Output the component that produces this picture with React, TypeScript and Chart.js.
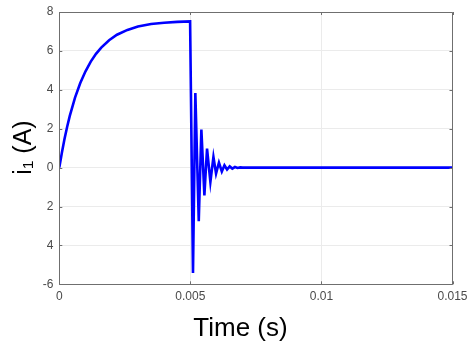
import { useEffect, useRef } from "react";
import { Chart, registerables } from "chart.js";

Chart.register(...registerables);

const timeS = [
  0, 0.0001, 0.0002, 0.0003, 0.0004, 0.0006, 0.0008, 0.001, 0.0012, 0.0014,
  0.0016, 0.0019, 0.0022, 0.0026, 0.003, 0.0035, 0.004, 0.0045, 0.00499,
  0.005, 0.0051, 0.00519, 0.00532, 0.00542, 0.005535, 0.005636, 0.005764,
  0.00588, 0.00598, 0.00609, 0.0062, 0.0063, 0.0064, 0.0065, 0.0066, 0.0067,
  0.0068, 0.0069, 0.007, 0.015,
];
const currentA = [
  0, 0.78, 1.48, 2.1, 2.66, 3.6, 4.35, 4.95, 5.45, 5.85,
  6.17, 6.55, 6.83, 7.08, 7.25, 7.38, 7.45, 7.49, 7.52,
  7.52, -5.42, 3.84, -2.76, 1.96, -1.43, 0.98, -0.74,
  0.55, -0.31, 0.26, -0.2, 0.12, -0.1, 0.06, -0.05, 0.03,
  -0.02, 0.01, 0, 0,
];

const xTicks = [0, 0.005, 0.01, 0.015];
const xTickLabels = ["0", "0.005", "0.01", "0.015"];
const yTicks = [-6, -4, -2, 0, 2, 4, 6, 8];
const yTickLabels = ["-6", "4", "2", "0", "2", "4", "6", "8"];
const xTitle = "Time (s)";
const yTitle = "i₁ (A)";

const FONT = "'Liberation Sans', Arial, Helvetica, sans-serif";

export default function App() {
  const ref = useRef<HTMLCanvasElement | null>(null);

  useEffect(() => {
    document.body.style.margin = "0";
    const canvas = ref.current;
    if (!canvas) return;

    const framePlugin = {
      id: "frame",
      afterDraw(chart: any) {
        const { ctx, chartArea } = chart;
        const { left, right, top, bottom } = chartArea;
        const xs = chart.scales.x;
        const ys = chart.scales.y;
        ctx.save();
        ctx.strokeStyle = "#6f6f6f";
        ctx.lineWidth = 1;
        ctx.beginPath();
        ctx.rect(Math.round(left) + 0.5, Math.round(top) + 0.5, Math.round(right - left), Math.round(bottom - top));
        ctx.stroke();
        // inward ticks
        ctx.beginPath();
        yTicks.forEach((v) => {
          const y = Math.round(ys.getPixelForValue(v)) + 0.5;
          ctx.moveTo(left, y);
          ctx.lineTo(left + 3, y);
          ctx.moveTo(right, y);
          ctx.lineTo(right - 3, y);
        });
        xTicks.forEach((v) => {
          const x = Math.round(xs.getPixelForValue(v)) + 0.5;
          ctx.moveTo(x, bottom);
          ctx.lineTo(x, bottom - 3);
          ctx.moveTo(x, top);
          ctx.lineTo(x, top + 3);
        });
        ctx.stroke();
        // titles
        ctx.fillStyle = "#000";
        ctx.font = `26px ${FONT}`;
        ctx.textAlign = "center";
        ctx.textBaseline = "alphabetic";
        ctx.fillText(xTitle, 240.5, 336);
        ctx.translate(31, 147.5);
        ctx.rotate(-Math.PI / 2);
        ctx.font = `25px ${FONT}`;
        ctx.fillText(yTitle, 0, 0);
        ctx.restore();
      },
    };

    const chart = new Chart(canvas, {
      type: "line",
      data: {
        datasets: [
          {
            data: timeS.map((t, i) => ({ x: t, y: currentA[i] })),
            borderColor: "#0000ff",
            borderWidth: 2.6,
            pointRadius: 0,
            tension: 0,
            fill: false,
          },
        ],
      },
      options: {
        animation: false,
        responsive: false,
        layout: { padding: { top: 12, right: 14.5, bottom: 0, left: 0 } },
        plugins: { legend: { display: false }, tooltip: { enabled: false } },
        scales: {
          x: {
            type: "linear",
            min: 0,
            max: 0.015,
            afterBuildTicks: (s: any) => {
              s.ticks = xTicks.map((v) => ({ value: v }));
            },
            afterFit: (s: any) => {
              s.height = 57.7;
              s.paddingLeft = 0;
              s.paddingRight = 0;
            },
            ticks: {
              autoSkip: false,
              maxRotation: 0,
              padding: 5,
              color: "#4a4a4a",
              font: { family: FONT, size: 12 },
              callback: (v: any) => {
                const i = xTicks.findIndex((t) => Math.abs(t - v) < 1e-9);
                return i >= 0 ? xTickLabels[i] : "";
              },
            },
            grid: { color: "#ebebeb", drawTicks: false, lineWidth: 1 },
            border: { display: false },
          },
          y: {
            type: "linear",
            min: -6,
            max: 8,
            afterBuildTicks: (s: any) => {
              s.ticks = yTicks.map((v) => ({ value: v }));
            },
            afterFit: (s: any) => {
              s.width = 59.3;
              s.paddingTop = 0;
              s.paddingBottom = 0;
            },
            ticks: {
              autoSkip: false,
              padding: 6,
              color: "#4a4a4a",
              font: { family: FONT, size: 12 },
              callback: (v: any) => {
                const i = yTicks.findIndex((t) => Math.abs(t - v) < 1e-9);
                return i >= 0 ? yTickLabels[i] : "";
              },
            },
            grid: { color: "#ebebeb", drawTicks: false, lineWidth: 1 },
            border: { display: false },
          },
        },
      },
      plugins: [framePlugin],
    });

    return () => chart.destroy();
  }, []);

  return (
    <div style={{ position: "absolute", left: 0, top: 0, width: 467, height: 342, background: "#fff" }}>
      <canvas ref={ref} width={467} height={342} />
    </div>
  );
}
